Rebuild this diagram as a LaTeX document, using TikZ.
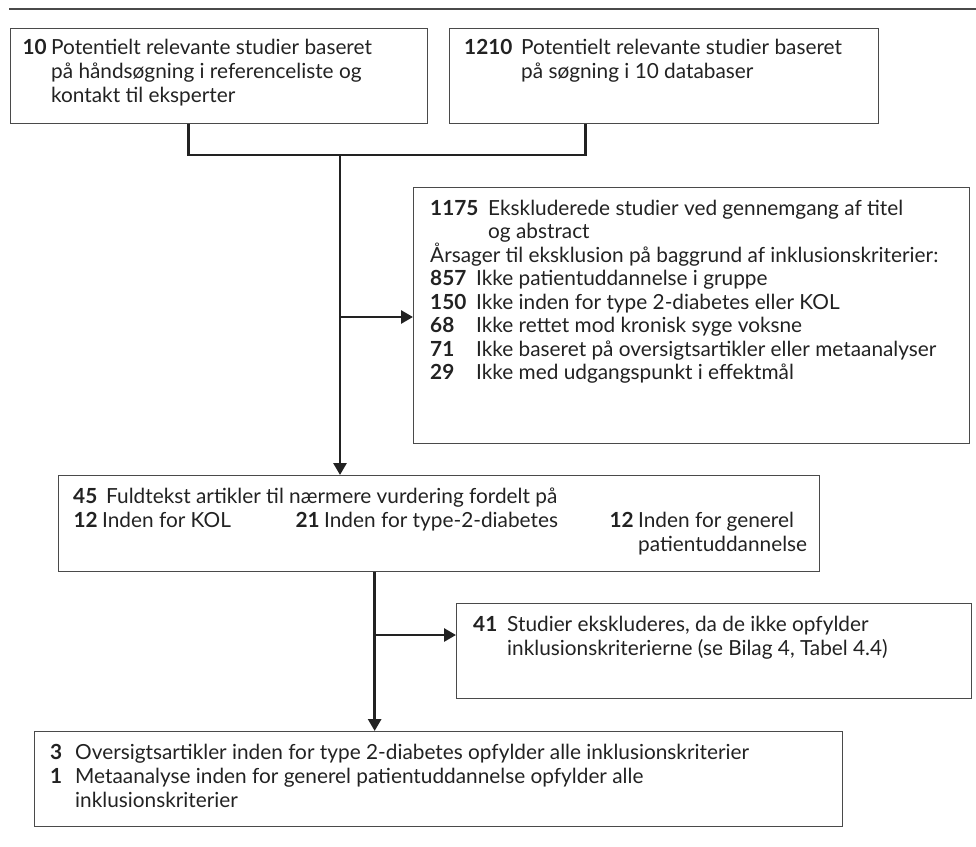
\documentclass[tikz,border=0pt]{standalone}
\usepackage{fontspec}
\setmainfont{Lato}
\usetikzlibrary{arrows.meta}
\definecolor{boxgray}{HTML}{4A4A4A}
\definecolor{ink}{HTML}{222222}
\newcommand\fsz{\fontsize{20.8pt}{24pt}\selectfont}
\begin{document}
\begin{tikzpicture}[x=1pt,y=-1pt,
  box/.style={draw=boxgray,line width=1.3pt,rectangle,inner sep=0pt,anchor=north west},
  txt/.style={anchor=base west,inner sep=0pt,font=\fsz,text=ink},
  num/.style={txt,font=\fsz\bfseries},
  numr/.style={num,anchor=base east},
  conn/.style={line width=2.8pt,draw=ink},
  arr/.style={conn,-{Triangle[length=12pt,width=13pt]}}]
\useasboundingbox (0,0) rectangle (976,846);
\draw[line width=1.3pt,draw=boxgray] (9,9) -- (976,9);
% boxes
\node[box,minimum width=417pt,minimum height=95pt] (A) at (10,28) {};
\node[box,minimum width=429pt,minimum height=95pt] (B) at (449,28) {};
\node[box,minimum width=556pt,minimum height=256pt] (E) at (413,187) {};
\node[box,minimum width=761pt,minimum height=96pt] (C) at (58,475) {};
\node[box,minimum width=515pt,minimum height=95pt] (G) at (456,603) {};
\node[box,minimum width=808pt,minimum height=95pt] (F) at (34,731) {};
% texts box A
\node[numr] (a0) at (47,54) {10};
\node[txt] (a1) at (51,54) {Potentielt relevante studier baseret};
\node[txt] (a2) at (51,78) {på håndsøgning i referenceliste og};
\node[txt] (a3) at (51,102) {kontakt til eksperter};
% box B
\node[num] (b0) at (464,54) {1210};
\node[txt] (b1) at (521,54) {Potentielt relevante studier baseret};
\node[txt] (b2) at (521,78) {på søgning i 10 databaser};
% box E
\node[num] (e0) at (430,215) {1175};
\node[txt] (e1) at (488,215) {Ekskluderede studier ved gennemgang af titel};
\node[txt] (e2) at (488,238.5) {og abstract};
\node[txt] (e3) at (430,262) {Årsager til eksklusion på baggrund af inklusionskriterier:};
\node[num] (e4n) at (430,285.5) {857};
\node[txt] (e4) at (476,285.5) {Ikke patientuddannelse i gruppe};
\node[num] (e5n) at (430,309) {150};
\node[txt] (e5) at (476,309) {Ikke inden for type 2-diabetes eller KOL};
\node[num] (e6n) at (430,332.5) {68};
\node[txt] (e6) at (476,332.5) {Ikke rettet mod kronisk syge voksne};
\node[num] (e7n) at (430,356) {71};
\node[txt] (e7) at (476,356) {Ikke baseret på oversigtsartikler eller metaanalyser};
\node[num] (e8n) at (430,379.5) {29};
\node[txt] (e8) at (476,379.5) {Ikke med udgangspunkt i effektmål};
% box C
\node[num] (c0) at (73,503) {45};
\node[txt] (c1) at (106,503) {Fuldtekst artikler til nærmere vurdering fordelt på};
\node[numr] (c2n) at (98,527) {12};
\node[txt] (c2) at (102,527) {Inden for KOL};
\node[numr] (c3n) at (320,527) {21};
\node[txt] (c3) at (324,527) {Inden for type-2-diabetes};
\node[numr] (c4n) at (634,527) {12};
\node[txt] (c4) at (638,527) {Inden for generel};
\node[txt] (c5) at (638,551) {patientuddannelse};
% box G
\node[num] (g0) at (473,631) {41};
\node[txt] (g1) at (507,631) {Studier ekskluderes, da de ikke opfylder};
\node[txt] (g2) at (507,655) {inklusionskriterierne (se Bilag 4, Tabel 4.4)};
% box F
\node[num] (f0) at (50,759) {3};
\node[txt] (f1) at (75,759) {Oversigtsartikler inden for type 2-diabetes opfylder alle inklusionskriterier};
\node[num] (f2n) at (50,783) {1};
\node[txt] (f2) at (75,783) {Metaanalyse inden for generel patientuddannelse opfylder alle};
\node[txt] (f3) at (75,807) {inklusionskriterier};
% connectors
\coordinate (j1) at (340,155);
\coordinate (j2) at (340,317);
\coordinate (j3) at (374,635);
\draw[conn] ([xshift=-30.5pt]A.south) |- (j1) -| ([xshift=-78.5pt]B.south);
\draw[arr] (j1) -- (j1 |- C.north);
\draw[arr] (j2) -- (j2 -| E.west);
\draw[arr] ([xshift=-64.5pt]C.south) -- ([xshift=-64.5pt]C.south |- F.north);
\draw[arr] (j3) -- (j3 -| G.west);
\end{tikzpicture}
\end{document}
